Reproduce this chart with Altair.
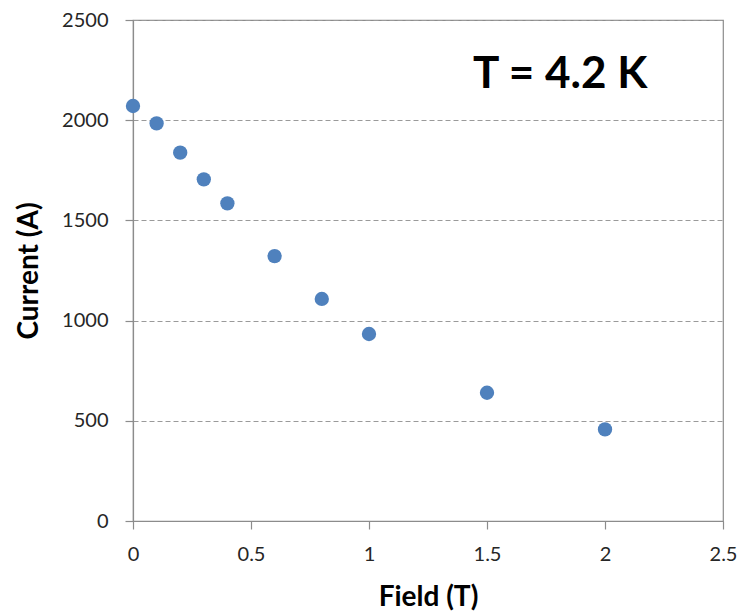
import altair as alt
import pandas as pd

field = [0, 0.1, 0.2, 0.3, 0.4, 0.6, 0.8, 1.0, 1.5, 2.0]
current = [2071, 1984, 1838, 1705, 1585, 1322, 1108, 933, 640, 457]

note_x = [1.81]
note_y = [2225]
note_text = ["T = 4.2 K"]

df = pd.DataFrame({"field": field, "current": current})
notes = pd.DataFrame({"x": note_x, "y": note_y, "t": note_text})

FONT = "Lato"
AX = "#8c8c8c"

xs = alt.Scale(domain=[0, 2.5], nice=False, zero=False)
ys = alt.Scale(domain=[0, 2500], nice=False)

points = alt.Chart(df).mark_circle(size=205, opacity=1, color="#4F81BD").encode(
    x=alt.X("field:Q", scale=xs,
            axis=alt.Axis(title="Field (T)", values=[0, 0.5, 1, 1.5, 2, 2.5],
                          format="~g", grid=False, tickSize=8, labelPadding=15,
                          labelFlush=False,
                          titleY=84, titleBaseline="alphabetic")),
    y=alt.Y("current:Q", scale=ys,
            axis=alt.Axis(title="Current (A)", values=[0, 500, 1000, 1500, 2000, 2500],
                          format="d", grid=True, tickSize=8, labelPadding=17,
                          labelFlush=False,
                          titleX=-104, titleBaseline="middle")),
)

label = alt.Chart(notes).mark_text(font=FONT, fontSize=44, fontWeight="bold",
                                   color="#000000", align="center", baseline="middle").encode(
    x=alt.X("x:Q", scale=xs), y=alt.Y("y:Q", scale=ys), text="t:N")

chart = alt.layer(points, label).properties(
    width=590, height=501,
    autosize=alt.AutoSizeParams(type="none"),
    padding={"left": 133, "top": 20, "right": 18, "bottom": 93},
).configure_view(stroke=AX, strokeWidth=1.2).configure_axis(
    labelFont=FONT, labelFontSize=20, labelColor="#262626",
    titleFont=FONT, titleFontSize=28, titleFontWeight="bold", titleColor="#000000",
    domainColor=AX, domainWidth=1.2, tickColor=AX, tickWidth=1.2,
    gridColor="#9a9a9a", gridDash=[5, 3], gridWidth=1,
)

chart.save("out.html", embed_options={"renderer": "svg", "actions": False})
